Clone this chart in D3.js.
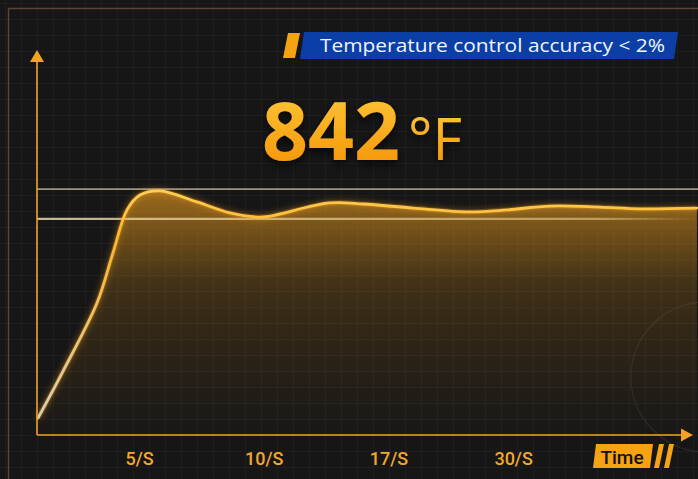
<!DOCTYPE html>
<html><head><meta charset="utf-8">
<script src="https://cdn.jsdelivr.net/npm/d3@7"></script>
<style>html,body{margin:0;padding:0;background:#161617;overflow:hidden}</style>
</head><body>
<script>
// ---- data ----
const tickValues = [1, 2, 3, 4];
const tickLabels = ["5/S", "10/S", "17/S", "30/S"];
const timeUnits = [0.19, 0.39, 0.663, 0.791, 0.904, 1.008, 1.168, 1.465, 1.73, 1.954, 2.05, 2.53, 2.80, 3.197, 3.654, 3.95, 4.296, 4.696, 5.017, 5.474];
const temperatures = [66, 248, 514, 709, 877, 935, 951, 908, 865, 849, 853, 904, 900, 884, 869, 877, 892, 888, 881, 884];
const targetTemp = 842;
const upperBand = 958;
const titleText = "Temperature control accuracy < 2%";
const bigValue = "842";
const unitText = "°F";
const axisLabel = "Time";

const W = 698, H = 479;
const svg = d3.select("body").append("svg").attr("width", W).attr("height", H);
const defs = svg.append("defs");

const x = d3.scaleLinear().domain([0, 5.5]).range([14.3, 14.3 + 5.5 * 124.7]);
const y = d3.scaleLinear().domain([0, 1500]).range([435, 50]);
const x0 = 37, yBase = 435;
const curve = d3.curveCatmullRom.alpha(0.5);

// background
svg.append("rect").attr("width", W).attr("height", H).attr("fill", "#161617");
const grid = svg.append("g").attr("stroke", "#2a2a2c").attr("stroke-width", 1).attr("opacity", 0.4);
for (let gx = 5; gx < W; gx += 16) grid.append("line").attr("x1", gx + .5).attr("x2", gx + .5).attr("y1", 0).attr("y2", H);
for (let gy = 3; gy < H; gy += 16) grid.append("line").attr("y1", gy + .5).attr("y2", gy + .5).attr("x1", 0).attr("x2", W);
// frame
svg.append("path").attr("d", `M8.5,${H} V8.5 H${W}`).attr("fill", "none").attr("stroke", "#5e4434").attr("stroke-width", 1.5);
// decorative arc
svg.append("circle").attr("cx", 706).attr("cy", 377).attr("r", 75).attr("fill", "none").attr("stroke", "#333335").attr("stroke-width", 1.2).attr("opacity", 0.6);

// gradients
const fillG = defs.append("linearGradient").attr("id", "fillG").attr("gradientUnits", "userSpaceOnUse")
  .attr("x1", 0).attr("y1", 190).attr("x2", 0).attr("y2", 435);
fillG.append("stop").attr("offset", 0).attr("stop-color", "#f0a020").attr("stop-opacity", 0.62);
fillG.append("stop").attr("offset", 0.4).attr("stop-color", "#d08a18").attr("stop-opacity", 0.22);
fillG.append("stop").attr("offset", 1).attr("stop-color", "#a06a10").attr("stop-opacity", 0.02);

const lineG = defs.append("linearGradient").attr("id", "lineG").attr("gradientUnits", "userSpaceOnUse")
  .attr("x1", 0).attr("y1", 420).attr("x2", 0).attr("y2", 190);
lineG.append("stop").attr("offset", 0).attr("stop-color", "#d9cfb8");
lineG.append("stop").attr("offset", 0.45).attr("stop-color", "#f3c060");
lineG.append("stop").attr("offset", 0.8).attr("stop-color", "#ffb52a");
lineG.append("stop").attr("offset", 1).attr("stop-color", "#ffcf55");

const refG = defs.append("linearGradient").attr("id", "refG").attr("gradientUnits", "userSpaceOnUse")
  .attr("x1", x0).attr("y1", 0).attr("x2", W).attr("y2", 0);
refG.append("stop").attr("offset", 0).attr("stop-color", "#e8d5a8").attr("stop-opacity", 0.85);
refG.append("stop").attr("offset", 0.85).attr("stop-color", "#e8c888").attr("stop-opacity", 0.6);
refG.append("stop").attr("offset", 1).attr("stop-color", "#e8c888").attr("stop-opacity", 0.0);

const txtG = defs.append("linearGradient").attr("id", "txtG").attr("x1", 0).attr("y1", 0).attr("x2", 0).attr("y2", 1);
txtG.append("stop").attr("offset", 0).attr("stop-color", "#ffd040");
txtG.append("stop").attr("offset", 1).attr("stop-color", "#f38c00");

const glow = defs.append("filter").attr("id", "glow").attr("x", "-20%").attr("y", "-20%").attr("width", "140%").attr("height", "140%");
glow.append("feGaussianBlur").attr("stdDeviation", 3).attr("result", "b");
const fm = glow.append("feMerge"); fm.append("feMergeNode").attr("in", "b"); fm.append("feMergeNode").attr("in", "SourceGraphic");

const shadow = defs.append("filter").attr("id", "shadow").attr("x", "-20%").attr("y", "-20%").attr("width", "140%").attr("height", "160%");
shadow.append("feDropShadow").attr("dx", 0).attr("dy", 4).attr("stdDeviation", 4).attr("flood-color", "#000").attr("flood-opacity", 0.7);

const data = timeUnits.map((t, i) => ({ t, v: temperatures[i] }));

// upper reference line
svg.append("line").attr("x1", x0).attr("x2", W).attr("y1", y(upperBand)).attr("y2", y(upperBand))
  .attr("stroke", "#c9bda4").attr("stroke-width", 1.8).attr("opacity", 0.75);

// area
const area = d3.area().x(d => x(d.t)).y0(yBase).y1(d => y(d.v)).curve(curve);
svg.append("path").datum(data).attr("d", area).attr("fill", "url(#fillG)");

// target line
svg.append("line").attr("x1", x0).attr("x2", W).attr("y1", y(targetTemp)).attr("y2", y(targetTemp))
  .attr("stroke", "url(#refG)").attr("stroke-width", 2.2);

// curve
const line = d3.line().x(d => x(d.t)).y(d => y(d.v)).curve(curve);
svg.append("path").datum(data).attr("d", line).attr("fill", "none").attr("stroke", "#f0a020")
  .attr("stroke-width", 5).attr("opacity", 0.35).attr("filter", "url(#glow)");
svg.append("path").datum(data).attr("d", line).attr("fill", "none").attr("stroke", "url(#lineG)")
  .attr("stroke-width", 2.8).attr("stroke-linecap", "round");

// axes
const axisColor = "#f0a326";
svg.append("line").attr("x1", x0).attr("x2", x0).attr("y1", yBase).attr("y2", 60).attr("stroke", axisColor).attr("stroke-width", 1.6);
svg.append("path").attr("d", `M${x0 - 7},62 L${x0},50 L${x0 + 7},62 Z`).attr("fill", axisColor);
svg.append("line").attr("x1", x0).attr("x2", 682).attr("y1", yBase).attr("y2", yBase).attr("stroke", axisColor).attr("stroke-width", 1.6);
svg.append("path").attr("d", `M681,${yBase - 6.5} L693,${yBase} L681,${yBase + 6.5} Z`).attr("fill", axisColor);

const xAxis = d3.axisBottom(x).tickValues(tickValues).tickFormat((d, i) => tickLabels[i]).tickSize(0).tickPadding(0);
const ax = svg.append("g").attr("transform", `translate(0,${yBase})`).call(xAxis);
ax.select(".domain").remove();
ax.selectAll("text").attr("fill", "#f2a72c").attr("font-family", "Roboto, sans-serif").attr("font-weight", 500)
  .attr("font-size", 18).attr("dy", 0).attr("y", 30);

// Time label
svg.append("path").attr("d", "M596,444 L653,444 L650,468 L593,468 Z").attr("fill", "#f5a313");
svg.append("text").attr("x", 622).attr("y", 464).attr("text-anchor", "middle").attr("font-family", "Roboto, sans-serif")
  .attr("font-weight", 500).attr("font-size", 19).attr("fill", "#111").text(axisLabel);
svg.append("path").attr("d", "M659,444 L664,444 L659,468 L654,468 Z").attr("fill", "#f5a313");
svg.append("path").attr("d", "M669,444 L674,444 L669,468 L664,468 Z").attr("fill", "#f5a313");

// badge
svg.append("path").attr("d", "M288,33 L300,33 L295,58 L283,58 Z").attr("fill", "#f5a313");
svg.append("path").attr("d", "M304,32 L678,32 L674,59 L300,59 Z").attr("fill", "#0b3fa6");
svg.append("text").attr("x", 320).attr("y", 52).attr("font-family", "'Open Sans', 'Noto Sans', sans-serif")
  .attr("font-size", 19).attr("fill", "#f2f4ff").attr("textLength", 345).attr("lengthAdjust", "spacingAndGlyphs").text(titleText);

// big number
svg.append("text").attr("x", 262).attr("y", 160).attr("font-family", "'Open Sans', Roboto, sans-serif").attr("font-weight", 700)
  .attr("font-size", 80).attr("fill", "url(#txtG)").attr("filter", "url(#shadow)")
  .attr("textLength", 138).attr("lengthAdjust", "spacingAndGlyphs").text(bigValue);
svg.append("text").attr("x", 408).attr("y", 160).attr("font-family", "'Open Sans', Roboto, sans-serif").attr("font-weight", 400)
  .attr("font-size", 58).attr("fill", "url(#txtG)").attr("filter", "url(#shadow)")
  .attr("textLength", 54).attr("lengthAdjust", "spacingAndGlyphs").text(unitText);
</script>
</body></html>
